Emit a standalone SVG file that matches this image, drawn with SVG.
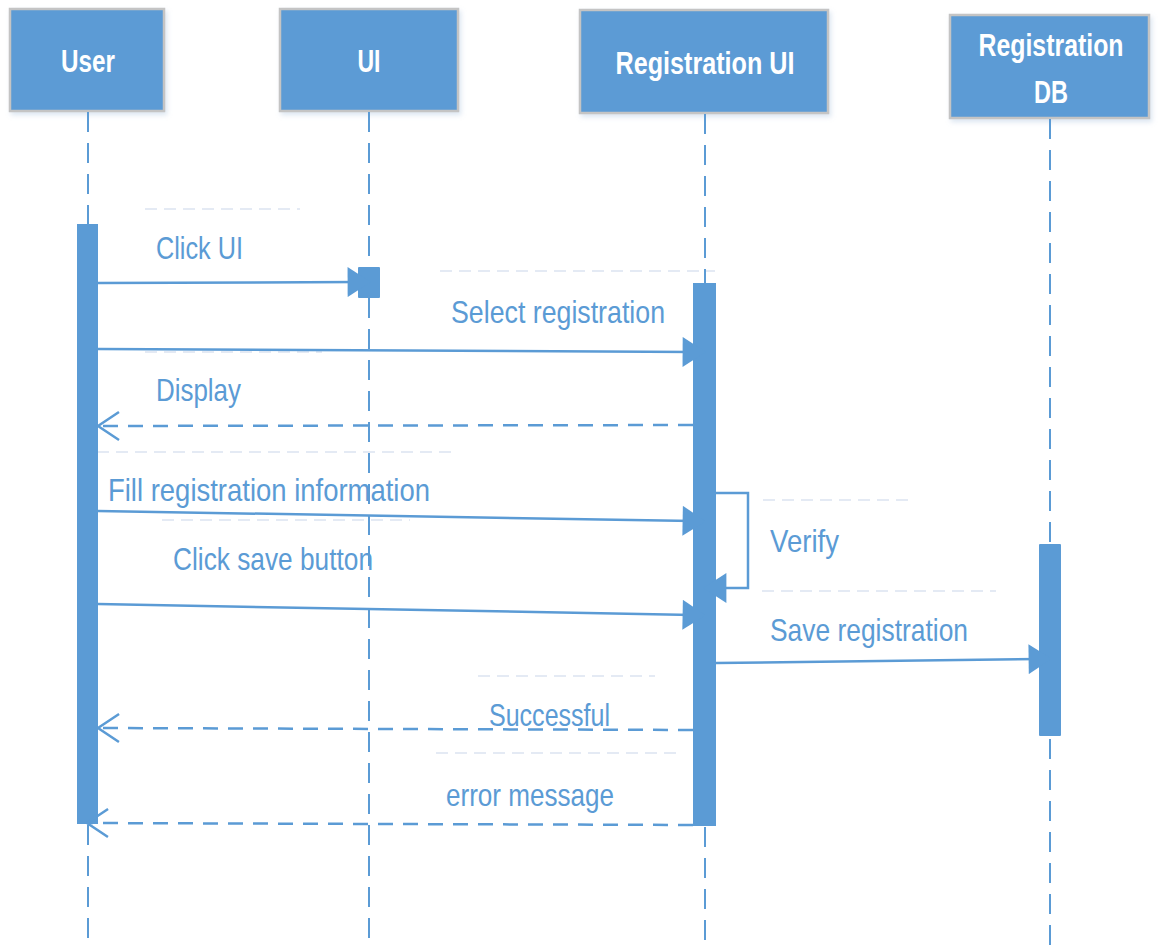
<svg xmlns="http://www.w3.org/2000/svg" width="1159" height="946" viewBox="0 0 1159 946">
<defs>
<style>
.box{fill:#5b9bd5;stroke:#c4c4c4;stroke-width:2.5}
.hdr{font-family:"Liberation Sans",Arial,sans-serif;font-weight:bold;font-size:31px;fill:#ffffff;text-anchor:middle}
.life{stroke:#5b9bd5;stroke-width:2;stroke-dasharray:20 11;fill:none}
.bar{fill:#5b9bd5}
.msg{stroke:#5b9bd5;stroke-width:2.5;fill:none}
.ret{stroke:#5b9bd5;stroke-width:2.5;fill:none;stroke-dasharray:15 10}
.guide{stroke:#e4eaf4;stroke-width:2;stroke-dasharray:12 7;fill:none}
.lbl{font-family:"Liberation Sans",Arial,sans-serif;font-size:32px;fill:#5b9bd5}
</style>
<marker id="fill" markerUnits="userSpaceOnUse" markerWidth="24" markerHeight="30" viewBox="0 0 20 26" refX="9" refY="13" orient="auto">
<path d="M0,0 L20,13 L0,26 z" fill="#5b9bd5"/>
</marker>
<marker id="open" markerUnits="userSpaceOnUse" markerWidth="30" markerHeight="36" viewBox="-26 -18 30 36" refX="0" refY="0" orient="auto">
<path d="M-21,-14 L0,0 L-21,14" fill="none" stroke="#5b9bd5" stroke-width="2.5"/>
</marker>
<filter id="sh" x="-10%" y="-10%" width="130%" height="130%">
<feDropShadow dx="2" dy="3" stdDeviation="2.5" flood-color="#9db8d8" flood-opacity="0.35"/>
</filter>
</defs>
<rect width="1159" height="946" fill="#ffffff"/>

<g id="guides">
<line class="guide" x1="145" y1="209" x2="300" y2="209"/>
<line class="guide" x1="440" y1="271" x2="715" y2="271"/>
<line class="guide" x1="145" y1="352" x2="322" y2="352"/>
<line class="guide" x1="97" y1="452" x2="452" y2="452"/>
<line class="guide" x1="162" y1="520" x2="410" y2="520"/>
<line class="guide" x1="763" y1="500" x2="910" y2="500"/>
<line class="guide" x1="762" y1="591" x2="996" y2="591"/>
<line class="guide" x1="478" y1="676" x2="655" y2="676"/>
<line class="guide" x1="436" y1="753" x2="680" y2="753"/>
</g>

<g id="node-user">
<rect class="box" x="10" y="9" width="154" height="102" filter="url(#sh)"/>
<text class="hdr" x="88" y="72" textLength="54" lengthAdjust="spacingAndGlyphs">User</text>
<line class="life" x1="88" y1="112" x2="88" y2="946"/>
<rect class="bar" x="77" y="224" width="21" height="600"/>
</g>

<g id="node-ui">
<rect class="box" x="280" y="9" width="178" height="102" filter="url(#sh)"/>
<text class="hdr" x="369" y="72" textLength="23" lengthAdjust="spacingAndGlyphs">UI</text>
<line class="life" x1="369" y1="112" x2="369" y2="946"/>
<rect class="bar" x="358" y="267" width="22" height="31" rx="1"/>
</g>

<g id="node-regui">
<rect class="box" x="580" y="10" width="248" height="103" filter="url(#sh)"/>
<text class="hdr" x="705" y="74" textLength="179" lengthAdjust="spacingAndGlyphs">Registration UI</text>
<line class="life" x1="705" y1="114" x2="705" y2="946"/>
<rect class="bar" x="693" y="283" width="23" height="543"/>
</g>

<g id="node-regdb">
<rect class="box" x="950" y="15" width="199" height="103" filter="url(#sh)"/>
<text class="hdr" x="1051" y="56" textLength="145" lengthAdjust="spacingAndGlyphs">Registration</text>
<text class="hdr" x="1051" y="103" textLength="34" lengthAdjust="spacingAndGlyphs">DB</text>
<line class="life" x1="1050" y1="119" x2="1050" y2="946"/>
<rect class="bar" x="1039" y="544" width="22" height="192" rx="1"/>
</g>

<g id="connectors">
<line class="msg" x1="98" y1="283" x2="358" y2="282" marker-end="url(#fill)"/>
<line class="msg" x1="98" y1="349" x2="693" y2="352" marker-end="url(#fill)"/>
<line class="ret" x1="693" y1="425" x2="98" y2="426" marker-end="url(#open)"/>
<line class="msg" x1="98" y1="511" x2="693" y2="521" marker-end="url(#fill)"/>
<line class="msg" x1="98" y1="604" x2="693" y2="615" marker-end="url(#fill)"/>
<polyline class="msg" points="716,493 748,493 748,588 716,588" marker-end="url(#fill)"/>
<line class="msg" x1="716" y1="663" x2="1039" y2="659" marker-end="url(#fill)"/>
<line class="ret" x1="693" y1="730" x2="98" y2="728" marker-end="url(#open)"/>
<line class="ret" x1="693" y1="825" x2="87" y2="823" marker-end="url(#open)"/>
</g>

<g id="labels">
<text class="lbl" x="156" y="259" textLength="87" lengthAdjust="spacingAndGlyphs">Click UI</text>
<text class="lbl" x="451" y="323" textLength="214" lengthAdjust="spacingAndGlyphs">Select registration</text>
<text class="lbl" x="156" y="401" textLength="85" lengthAdjust="spacingAndGlyphs">Display</text>
<text class="lbl" x="108" y="501" textLength="322" lengthAdjust="spacingAndGlyphs">Fill registration information</text>
<text class="lbl" x="173" y="570" textLength="200" lengthAdjust="spacingAndGlyphs">Click save button</text>
<text class="lbl" x="770" y="552" textLength="69" lengthAdjust="spacingAndGlyphs">Verify</text>
<text class="lbl" x="770" y="641" textLength="198" lengthAdjust="spacingAndGlyphs">Save registration</text>
<text class="lbl" x="489" y="726" textLength="121" lengthAdjust="spacingAndGlyphs">Successful</text>
<text class="lbl" x="446" y="806" textLength="168" lengthAdjust="spacingAndGlyphs">error message</text>
</g>
</svg>
